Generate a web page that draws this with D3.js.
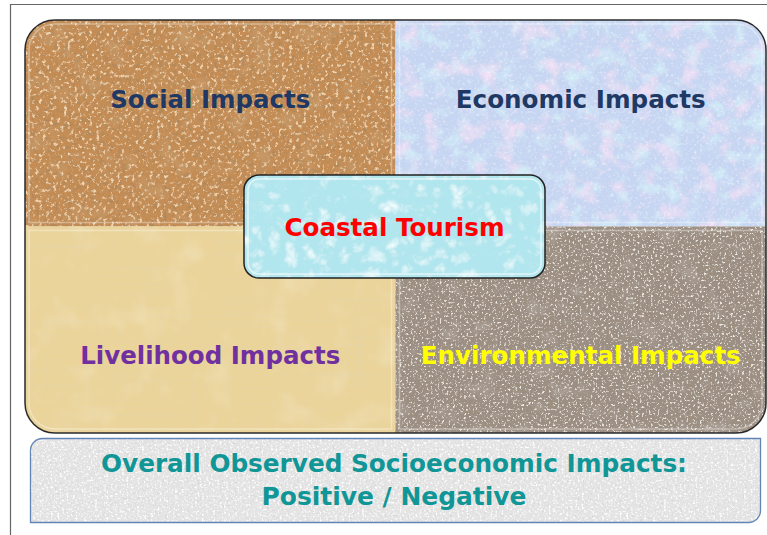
<!DOCTYPE html>
<meta charset="utf-8">
<style>
body { margin: 0; background: #fff; }
text { font-family: "DejaVu Sans", Verdana, sans-serif; font-weight: bold; }
</style>
<body>
<svg width="767" height="535"></svg>
<script src="https://cdn.jsdelivr.net/npm/d3@7"></script>
<script>

// diagram content
var quadLabels = ["Social Impacts", "Economic Impacts", "Livelihood Impacts", "Environmental Impacts"];
var quadCols = [0, 1, 0, 1];
var quadRows = [0, 0, 1, 1];
var quadCorners = ["tl", "tr", "bl", "br"];
var quadTextures = ["cork", "pastel", "papyrus", "granite"];
var quadColors = ["#1f3864", "#1f3864", "#7030a0", "#ffff00"];
var quadTextWidths = [200, 250, 260, 320];

var centerLabel = "Coastal Tourism";
var summaryLines = ["Overall Observed Socioeconomic Impacts:", "Positive / Negative"];
var summaryWidths = [586, 265];

var svg = d3.select("svg");
var defs = svg.append("defs");

var x = d3.scaleBand().domain([0, 1]).range([25, 766]);
var y = d3.scaleBand().domain([0, 1]).range([20, 433]);
var R = 30;

// noise texture filters: base shape colour + dark and light speckles
function texture(id, opts) {
  var f = defs.append("filter").attr("id", id)
      .attr("x", 0).attr("y", 0).attr("width", 1).attr("height", 1);
  opts.layers.forEach(function(l, i) {
    f.append("feTurbulence")
        .attr("type", l.type || "fractalNoise")
        .attr("baseFrequency", l.freq)
        .attr("numOctaves", l.oct || 3)
        .attr("seed", l.seed || i + 3)
        .attr("result", "n" + i);
    var c = d3.color(l.color);
    f.append("feColorMatrix").attr("in", "n" + i).attr("type", "matrix")
        .attr("values", [0, 0, 0, 0, c.r / 255, 0, 0, 0, 0, c.g / 255, 0, 0, 0, 0, c.b / 255,
                         l.k, 0, 0, 0, -l.k * l.t].join(" "))
        .attr("result", "c" + i);
    f.append("feComposite").attr("in", "c" + i).attr("in2", "SourceAlpha")
        .attr("operator", "in").attr("result", "d" + i);
  });
  var m = f.append("feMerge");
  m.append("feMergeNode").attr("in", "SourceGraphic");
  opts.layers.forEach(function(l, i) { m.append("feMergeNode").attr("in", "d" + i); });
}

texture("cork", {layers: [
  {freq: 0.22, color: "#73401a", k: 5, t: 0.53, seed: 4},
  {freq: 0.28, color: "#dfac72", k: 5, t: 0.57, seed: 9},
  {freq: 0.04, color: "#9a6230", k: 1.5, t: 0.55, seed: 2}
]});
texture("pastel", {layers: [
  {freq: 0.05, color: "#eac0ea", k: 2.4, t: 0.5, seed: 5},
  {freq: 0.06, color: "#a6dcf0", k: 2.4, t: 0.5, seed: 11},
  {freq: 0.35, color: "#ffffff", k: 1.5, t: 0.55, seed: 7}
]});
texture("papyrus", {layers: [
  {freq: "0.01 0.35", color: "#c7a75f", k: 1.6, t: 0.5, seed: 6, oct: 2},
  {freq: "0.35 0.01", color: "#c7a75f", k: 1.6, t: 0.5, seed: 8, oct: 2},
  {freq: 0.03, color: "#f6e6b6", k: 0.6, t: 0.5, seed: 3}
]});
texture("granite", {layers: [
  {freq: 0.4, color: "#4e443c", k: 5, t: 0.55, seed: 12},
  {freq: 0.45, color: "#ddd3c6", k: 5, t: 0.57, seed: 14},
  {freq: 0.05, color: "#7e7064", k: 1.5, t: 0.55, seed: 1}
]});
texture("water", {layers: [
  {freq: 0.06, type: "turbulence", color: "#e4f9fc", k: 2, t: 0.3, seed: 21},
  {freq: 0.08, type: "turbulence", color: "#7ccbd9", k: 2, t: 0.45, seed: 17}
]});
texture("stone", {layers: [
  {freq: 0.4, color: "#b0b0b0", k: 4, t: 0.55, seed: 31},
  {freq: 0.45, color: "#ffffff", k: 4, t: 0.53, seed: 33}
]});

var baseFill = {cork: "#c48d56", pastel: "#c6d5f2", papyrus: "#ebd49a",
                granite: "#9d8f82", water: "#b2e6ee", stone: "#e4e4e4"};

// rectangle path with only one rounded corner
function cornerRect(x0, y0, x1, y1, r, corner) {
  var p = d3.path();
  var tl = corner == "tl" ? r : 0, tr = corner == "tr" ? r : 0,
      br = corner == "br" ? r : 0, bl = corner == "bl" ? r : 0;
  p.moveTo(x0 + tl, y0);
  p.lineTo(x1 - tr, y0);
  if (tr) p.arcTo(x1, y0, x1, y0 + tr, tr);
  p.lineTo(x1, y1 - br);
  if (br) p.arcTo(x1, y1, x1 - br, y1, br);
  p.lineTo(x0 + bl, y1);
  if (bl) p.arcTo(x0, y1, x0, y1 - bl, bl);
  p.lineTo(x0, y0 + tl);
  if (tl) p.arcTo(x0, y0, x0 + tl, y0, tl);
  p.closePath();
  return p.toString();
}

// page frame
svg.append("path")
    .attr("d", "M10.5,535V4.5H767")
    .attr("fill", "none")
    .attr("stroke", "#666")
    .attr("stroke-width", 1.2);

// quadrants
var quads = quadLabels.map(function(d, i) {
  return {label: d, col: quadCols[i], row: quadRows[i], corner: quadCorners[i],
          tex: quadTextures[i], color: quadColors[i], w: quadTextWidths[i]};
});

var q = svg.append("g").selectAll("g").data(quads).enter().append("g");

q.append("path")
    .attr("d", function(d) {
      return cornerRect(x(d.col), y(d.row), x(d.col) + x.bandwidth(), y(d.row) + y.bandwidth(), R, d.corner);
    })
    .attr("fill", function(d) { return baseFill[d.tex]; })
    .attr("filter", function(d) { return "url(#" + d.tex + ")"; });

// glossy inner highlight
q.append("path")
    .attr("d", function(d) {
      return cornerRect(x(d.col) + 4, y(d.row) + 4, x(d.col) + x.bandwidth() - 4, y(d.row) + y.bandwidth() - 4, R - 4, d.corner);
    })
    .attr("fill", "none")
    .attr("stroke", "#fff")
    .attr("stroke-opacity", 0.35)
    .attr("stroke-width", 1.5);

q.append("text")
    .attr("x", function(d) { return x(d.col) + x.bandwidth() / 2; })
    .attr("y", function(d) { return y(d.row) + (d.row == 0 ? 0.428 : 0.668) * y.bandwidth(); })
    .attr("text-anchor", "middle")
    .attr("font-size", 24)
    .attr("fill", function(d) { return d.color; })
    .attr("textLength", function(d) { return d.w; })
    .attr("lengthAdjust", "spacingAndGlyphs")
    .text(function(d) { return d.label; });

// outer outline of the four quadrants
svg.append("rect")
    .attr("x", x.range()[0]).attr("y", y.range()[0])
    .attr("width", x.range()[1] - x.range()[0])
    .attr("height", y.range()[1] - y.range()[0])
    .attr("rx", R)
    .attr("fill", "none")
    .attr("stroke", "#2a2a2a")
    .attr("stroke-width", 1.5);

// centre box
var cx0 = 244, cy0 = 175, cw = 301, ch = 103;
svg.append("rect")
    .attr("x", cx0).attr("y", cy0).attr("width", cw).attr("height", ch).attr("rx", 15)
    .attr("fill", baseFill.water)
    .attr("filter", "url(#water)");
svg.append("rect")
    .attr("x", cx0 + 4).attr("y", cy0 + 4).attr("width", cw - 8).attr("height", ch - 8).attr("rx", 11)
    .attr("fill", "none").attr("stroke", "#fff").attr("stroke-opacity", 0.6).attr("stroke-width", 1.5);
svg.append("rect")
    .attr("x", cx0).attr("y", cy0).attr("width", cw).attr("height", ch).attr("rx", 15)
    .attr("fill", "none").attr("stroke", "#222").attr("stroke-width", 1.5);
svg.append("text")
    .attr("x", cx0 + cw / 2)
    .attr("y", 236)
    .attr("text-anchor", "middle")
    .attr("font-size", 24)
    .attr("fill", "#ff0000")
    .attr("textLength", 220)
    .attr("lengthAdjust", "spacingAndGlyphs")
    .text(centerLabel);

// summary box
var bx0 = 30.5, by0 = 438.5, bx1 = 760.5, by1 = 522.5;
var bp = d3.path();
bp.moveTo(bx0 + 12, by0); bp.lineTo(bx1, by0); bp.lineTo(bx1, by1 - 12);
bp.arcTo(bx1, by1, bx1 - 12, by1, 12); bp.lineTo(bx0, by1); bp.lineTo(bx0, by0 + 12);
bp.arcTo(bx0, by0, bx0 + 12, by0, 12); bp.closePath();
svg.append("path")
    .attr("d", bp.toString())
    .attr("fill", baseFill.stone)
    .attr("filter", "url(#stone)");
svg.append("path")
    .attr("d", bp.toString())
    .attr("fill", "none")
    .attr("stroke", "#6384b8")
    .attr("stroke-width", 1.3);

svg.append("g").selectAll("text")
    .data(summaryLines)
  .enter().append("text")
    .attr("x", 394)
    .attr("y", function(d, i) { return 472 + i * 33; })
    .attr("text-anchor", "middle")
    .attr("font-size", 24)
    .attr("fill", "#109696")
    .attr("textLength", function(d, i) { return summaryWidths[i]; })
    .attr("lengthAdjust", "spacingAndGlyphs")
    .text(function(d) { return d; });

</script>
</body>
